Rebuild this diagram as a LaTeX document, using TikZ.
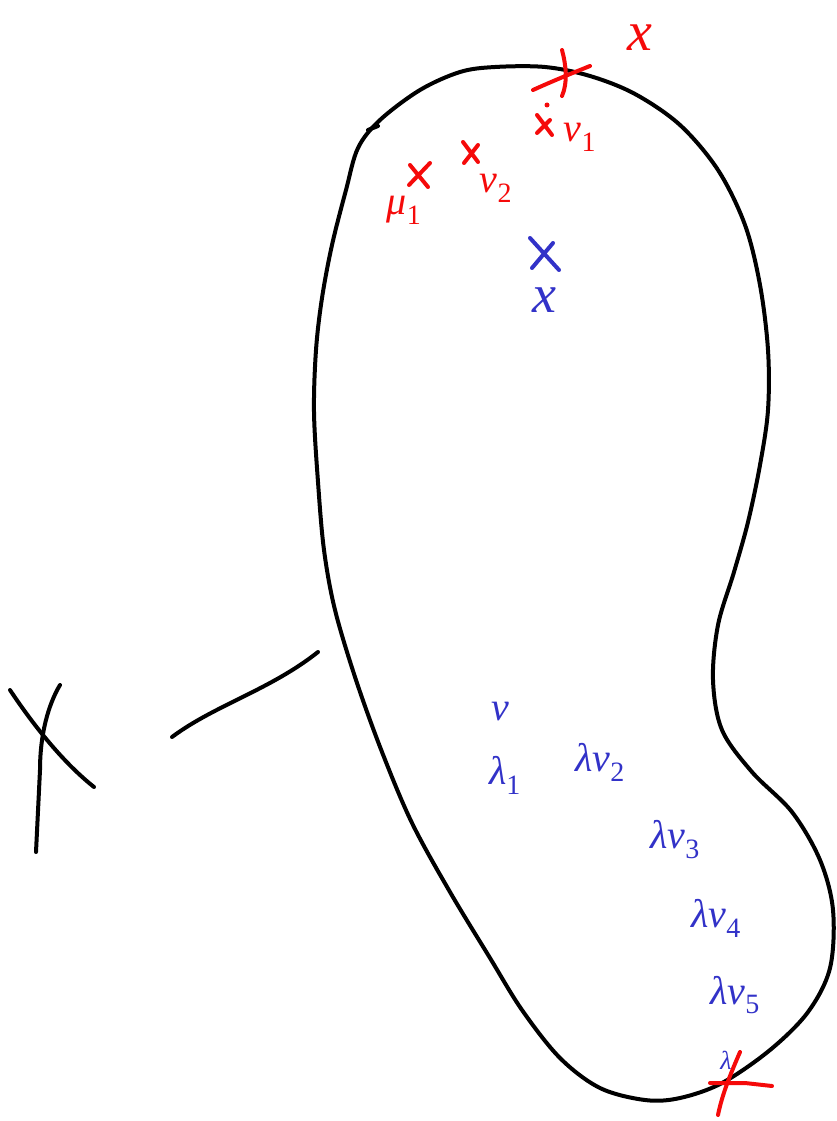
\documentclass[tikz,border=0pt]{standalone}
\usepackage{fontspec}
\newfontfamily\labfont{Liberation Serif}
\newcommand{\sbs}[1]{\textsubscript{\upshape #1}}
\begin{document}
\begin{tikzpicture}[x=1pt,y=-1pt,
  ink/.style={line width=4pt,line cap=round,line join=round},
  redc/.style={ink,draw=hred},
  bluec/.style={ink,draw=hblue},
  rlab/.style={text=hred,inner sep=0pt,font=\labfont\itshape\fontsize{40}{44}\selectfont},
  blab/.style={text=hblue,inner sep=0pt,font=\labfont\itshape\fontsize{40}{44}\selectfont}]
\definecolor{hred}{RGB}{245,10,10}
\definecolor{hblue}{RGB}{50,50,200}
\useasboundingbox (0,0) rectangle (837,1121);
% blob
\draw[ink] plot[smooth cycle,tension=0.55] coordinates {
 (495,67) (545,67) (590,76) (635,94) (680,125) (718,170) (745,225)
 (760,285) (768,350) (768,410) (760,465) (748,522) (734,572) (718,625)
 (713,680) (722,730) (752,772) (792,812) (820,860) (833,910) (830,968)
 (808,1012) (770,1050) (722,1083) (680,1098) (645,1100) (600,1088)
 (560,1058) (522,1010) (490,958) (450,892) (412,823) (382,752) (356,680)
 (335,610) (324,550) (318,482) (314,412) (316,350) (322,298) (332,245)
 (346,190) (358,148) (380,120) (420,90) (460,72)};
\draw[ink] (368,130) -- (378,126);
% separate line and left cross
\draw[ink] (172,737) .. controls (215,705) and (270,690) .. (318,652);
\draw[ink] (10,690) .. controls (30,720) and (60,760) .. (94,787);
\draw[ink] (60,685) .. controls (48,705) and (40,735) .. (40,770) -- (36,852);
% red crosses
\draw[redc] (533,90) .. controls (555,80) and (575,72) .. (590,66);
\draw[redc] (562,50) .. controls (566,65) and (568,82) .. (562,96);
\draw[redc] (410,165) -- (428,187) (430,163) -- (409,185);
\draw[redc] (463,142) -- (478,162) (478,145) -- (464,163);
\draw[redc] (537,115) -- (552,135) (550,120) -- (537,133);
\fill[hred] (547,105) circle (2.5pt);
% blue cross
\draw[bluec] (530,238) -- (559,270) (553,243) -- (532,268);
% bottom red cross
\draw[redc] (710,1083) -- (745,1083) -- (772,1086);
\draw[redc] (740,1052) .. controls (730,1075) and (722,1095) .. (718,1115);
% red labels
\node[rlab,font=\labfont\itshape\fontsize{56}{60}\selectfont] (rx) at (640,38) {x};
\node[rlab] (ru1) at (404,210) {μ\sbs{1}};
\node[rlab] (rv2) at (496,188) {v\sbs{2}};
\node[rlab] (rv1) at (580,137) {v\sbs{1}};
% blue labels
\node[blab,font=\labfont\itshape\fontsize{54}{58}\selectfont] (bx) at (544,300) {x};
\node[blab] (bv) at (500,712) {v};
\node[blab] (bl1) at (505,775) {λ\sbs{1}};
\node[blab] (bv2) at (600,762) {λv\sbs{2}};
\node[blab] (bv3) at (675,840) {λv\sbs{3}};
\node[blab] (bv4) at (716,918) {λv\sbs{4}};
\node[blab] (bv5) at (735,995) {λv\sbs{5}};
\node[blab,font=\labfont\itshape\fontsize{26}{28}\selectfont] (bl) at (726,1060) {λ};
\end{tikzpicture}
\end{document}
